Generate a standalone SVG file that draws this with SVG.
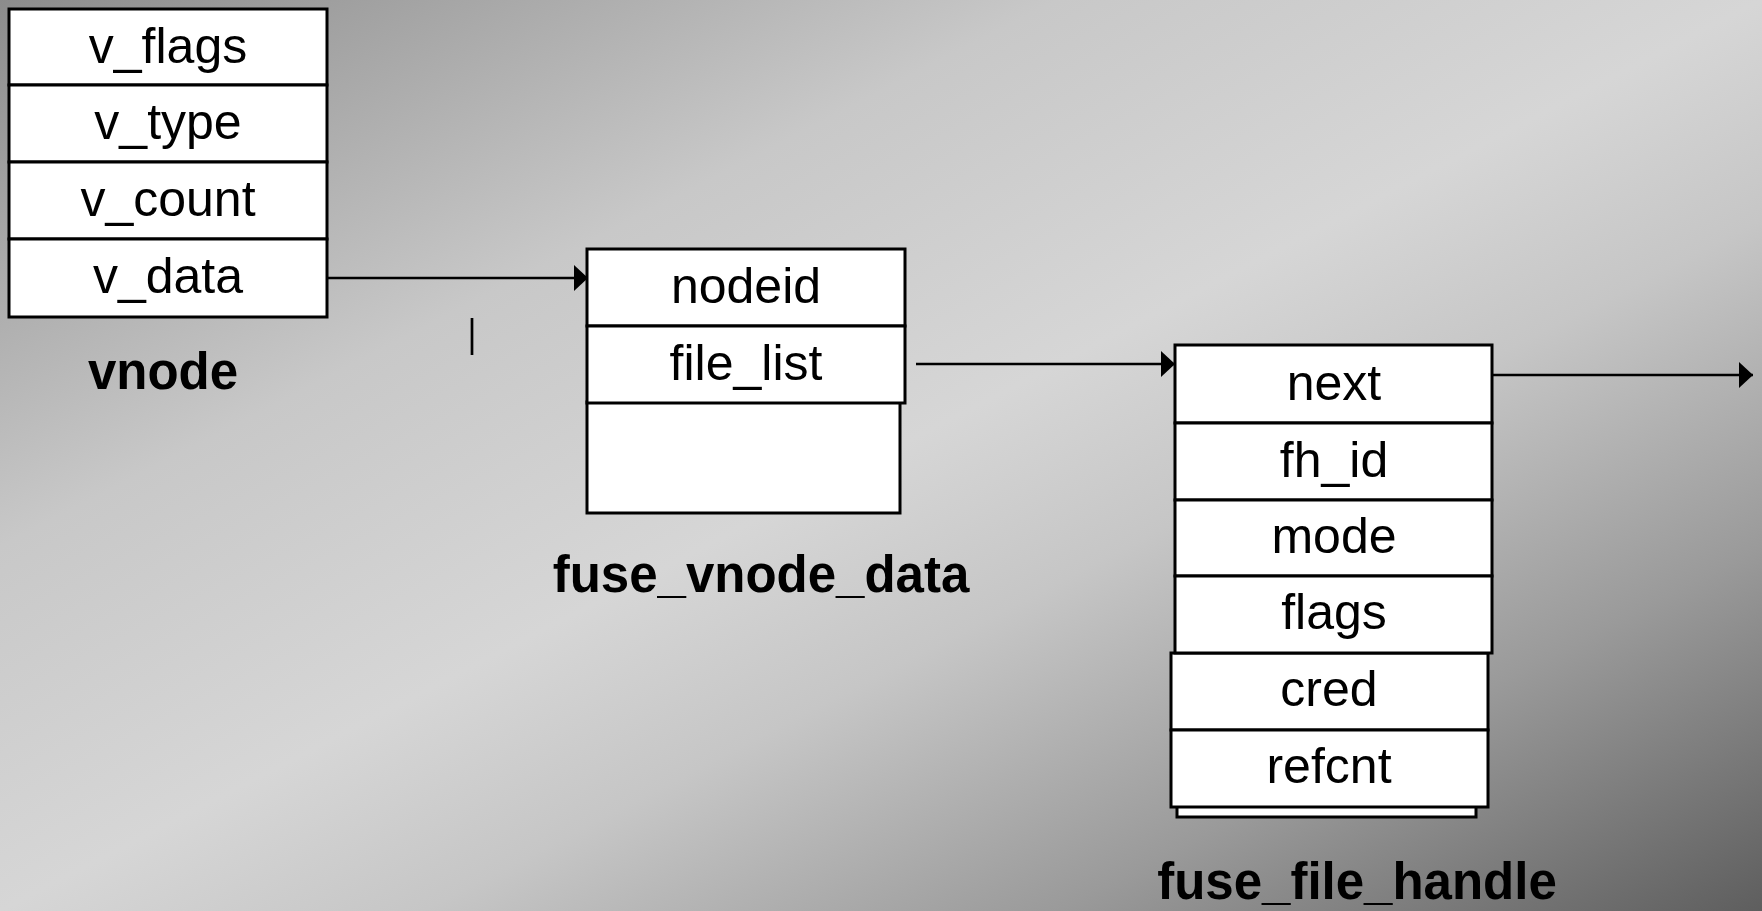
<svg xmlns="http://www.w3.org/2000/svg" width="1762" height="911" viewBox="0 0 1762 911">
<defs>
<linearGradient id="bg" x1="0" y1="0" x2="1" y2="1">
<stop offset="0" stop-color="#8c8c8c"/>
<stop offset="0.3" stop-color="#c8c8c8"/>
<stop offset="0.5" stop-color="#d6d6d6"/>
<stop offset="0.62" stop-color="#c6c6c6"/>
<stop offset="0.8" stop-color="#9a9a9a"/>
<stop offset="1" stop-color="#5e5e5e"/>
</linearGradient>
<marker id="ah" markerUnits="userSpaceOnUse" markerWidth="16" markerHeight="28" refX="14" refY="13" orient="auto">
<path d="M0,0 L14,13 L0,26 Z" fill="#000"/>
</marker>
</defs>
<style>
.cell{fill:#fff;stroke:#000;stroke-width:3}
.t{font-family:"Liberation Sans",Arial,sans-serif;font-size:50px;fill:#000;text-anchor:middle}
.lbl{font-family:"Liberation Sans",Arial,sans-serif;font-size:51px;font-weight:bold;fill:#000;text-anchor:middle}
.con{stroke:#000;stroke-width:2.7;fill:none}
</style>
<rect x="0" y="0" width="1762" height="911" fill="url(#bg)"/>

<g id="vnode">
<rect class="cell" x="9" y="9" width="318" height="76"/>
<rect class="cell" x="9" y="85" width="318" height="77"/>
<rect class="cell" x="9" y="162" width="318" height="77"/>
<rect class="cell" x="9" y="239" width="318" height="78"/>
<text class="t" x="168" y="63">v_flags</text>
<text class="t" x="168" y="139">v_type</text>
<text class="t" x="168" y="216">v_count</text>
<text class="t" x="168" y="293">v_data</text>
<text class="lbl" x="163" y="389">vnode</text>
</g>

<g id="fuse_vnode_data">
<rect class="cell" x="587" y="402" width="313" height="111"/>
<rect class="cell" x="587" y="249" width="318" height="77"/>
<rect class="cell" x="587" y="326" width="318" height="77"/>
<text class="t" x="746" y="303">nodeid</text>
<text class="t" x="746" y="380">file_list</text>
<text class="lbl" x="761" y="592">fuse_vnode_data</text>
</g>

<g id="fuse_file_handle">
<rect class="cell" x="1177" y="805" width="299" height="12"/>
<rect class="cell" x="1171" y="653" width="317" height="77"/>
<rect class="cell" x="1171" y="730" width="317" height="77"/>
<rect class="cell" x="1175" y="345" width="317" height="78"/>
<rect class="cell" x="1175" y="423" width="317" height="77"/>
<rect class="cell" x="1175" y="500" width="317" height="76"/>
<rect class="cell" x="1175" y="576" width="317" height="77"/>
<text class="t" x="1334" y="400">next</text>
<text class="t" x="1334" y="477">fh_id</text>
<text class="t" x="1334" y="553">mode</text>
<text class="t" x="1334" y="629">flags</text>
<text class="t" x="1329" y="706">cred</text>
<text class="t" x="1329" y="783">refcnt</text>
<text class="lbl" x="1357" y="899">fuse_file_handle</text>
</g>

<g id="connectors">
<line class="con" x1="327" y1="278" x2="588" y2="278" marker-end="url(#ah)"/>
<line class="con" x1="916" y1="364" x2="1175" y2="364" marker-end="url(#ah)"/>
<line class="con" x1="1492" y1="375" x2="1753" y2="375" marker-end="url(#ah)"/>
<line class="con" x1="472" y1="318" x2="472" y2="355"/>
</g>
</svg>
